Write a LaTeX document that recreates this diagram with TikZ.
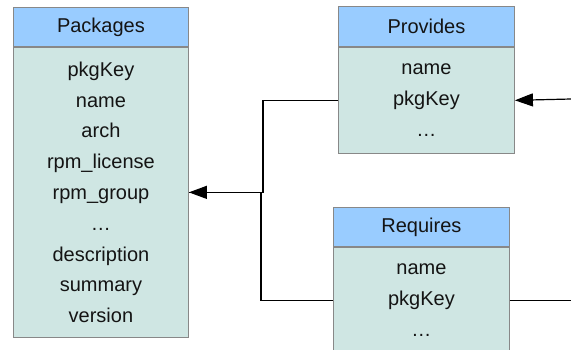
\documentclass[tikz,border=0pt]{standalone}
\usepackage{fontspec}
\setmainfont{Liberation Sans}
\usetikzlibrary{arrows.meta}
\definecolor{hdrblue}{RGB}{153,204,255}
\definecolor{bodyteal}{RGB}{207,230,227}
\definecolor{boxgray}{RGB}{136,136,136}
\definecolor{inkgray}{RGB}{20,20,20}
\begin{document}
\begin{tikzpicture}[x=1pt,y=-1pt,
  tablehead/.style={draw=boxgray, fill=hdrblue, line width=0.9pt,
    inner sep=0pt, text=inkgray, anchor=north west,
    font=\fontsize{20}{24}\selectfont},
  tablebody/.style={draw=boxgray, fill=bodyteal, line width=0.9pt,
    inner sep=0pt, text=inkgray, anchor=north, align=center,
    font=\fontsize{20}{30.8}\selectfont},
  link/.style={draw=black, line width=1.2pt},
  linkarrow/.style={link, -{Triangle[length=18pt,width=13pt]}}]
\useasboundingbox (0,0) rectangle (571,349);
\clip (0,0) rectangle (571,349);

% Packages table
\node[tablehead, minimum width=175pt, minimum height=39pt] (pkgh) at (13,7) {Packages};
\node[tablebody, minimum width=175pt, minimum height=290pt] (pkg) at (pkgh.south)
  {pkgKey\\name\\arch\\rpm\_license\\rpm\_group\\…\\description\\summary\\version};

% Provides table
\node[tablehead, minimum width=176pt, minimum height=40pt] (provh) at (338,6) {Provides};
\node[tablebody, minimum width=176pt, minimum height=106pt] (prov) at (provh.south)
  {name\\pkgKey\\…};

% Requires table (runs past the lower edge)
\node[tablehead, minimum width=176pt, minimum height=39pt] (reqh) at (333,207) {Requires};
\node[tablebody, minimum width=176pt, minimum height=106pt] (req) at (reqh.south)
  {name\\pkgKey\\…};

% Links between the tables
\draw[linkarrow] (prov.west) -- ++(-75,0) |- (pkg.east);
\draw[link] (req.west) -- ++(-72,0) |- (pkg.east);

\coordinate (outA) at (571,99);
\coordinate (outB) at (571,299);
\draw[linkarrow] (outA) -- (prov.east);
\draw[link] (req.east) -- (req.east -| outB);
\end{tikzpicture}
\end{document}
